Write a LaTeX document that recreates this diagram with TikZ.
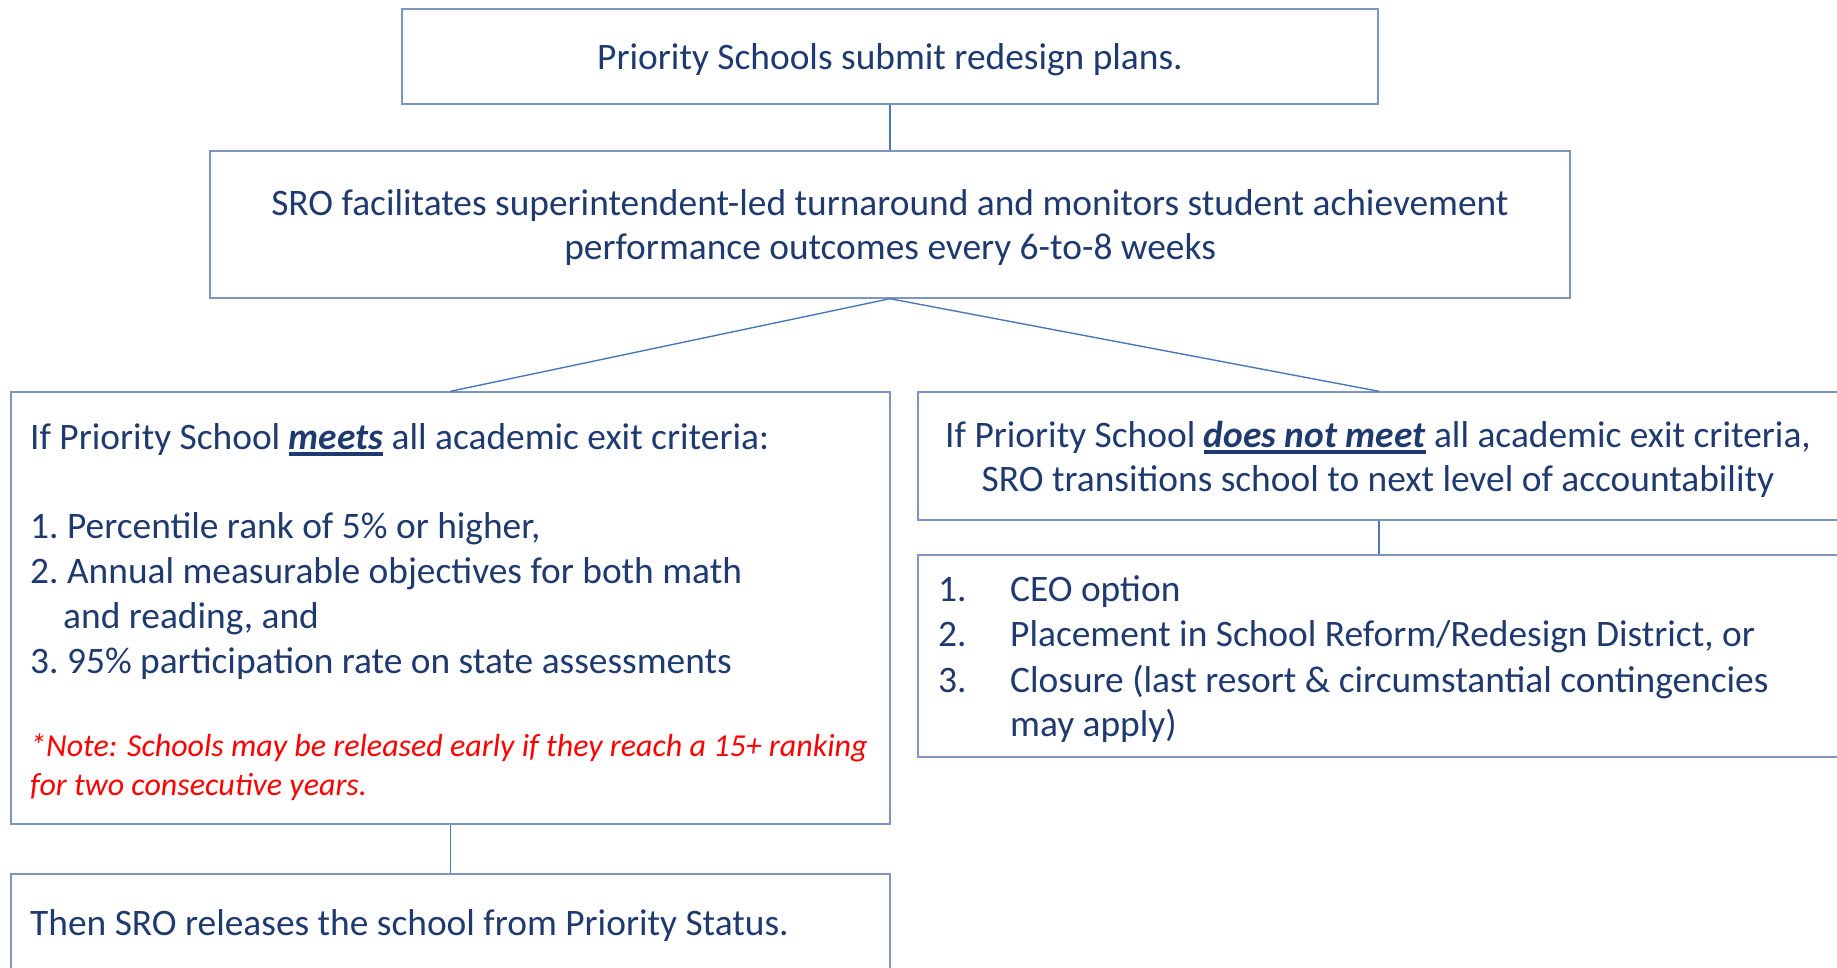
\documentclass[tikz,border=0pt]{standalone}
\usepackage{fontspec}
\setmainfont{Carlito}
\definecolor{txtblue}{RGB}{31,58,110}
\definecolor{boxline}{RGB}{125,150,192}
\definecolor{conline}{RGB}{74,120,185}
\definecolor{notered}{RGB}{255,0,0}
\newcommand\thul[1]{\setbox0\hbox{#1}\rlap{\vrule height -3pt depth 7pt width \wd0}\box0\relax}
\tikzset{
  box/.style={draw=boxline, line width=1.4pt, rectangle, inner sep=0pt},
  con/.style={draw=conline, line width=1.4pt},
  txt/.style={text=txtblue, inner sep=0pt, font=\fontsize{37.4}{45}\selectfont},
  ltxt/.style={txt, anchor=base west},
  ctxt/.style={txt, anchor=base},
  note/.style={text=notered, inner sep=0pt, anchor=base west, font=\fontsize{32}{39}\selectfont\itshape},
}
\begin{document}
\begin{tikzpicture}[x=1pt,y=-1pt]
\useasboundingbox (0,0) rectangle (1837,967);
\clip (0,0) rectangle (1837,967);
% boxes
\node[box, minimum width=976pt, minimum height=95pt] (top) at (890,56.5) {};
\node[box, minimum width=1360pt, minimum height=147pt] (mid) at (890,224.5) {};
\node[box, minimum width=879pt, minimum height=432pt] (left) at (450.5,608) {};
\node[box, minimum width=922pt, minimum height=128pt] (right) at (1379,456) {};
\node[box, minimum width=922pt, minimum height=202pt] (rb) at (1379,656) {};
\node[box, minimum width=879pt, minimum height=126pt] (bot) at (450.5,937) {};
% connectors
\draw[con] (top.south) -- (mid.north);
\draw[con] (mid.south) -- (left.north);
\draw[con] (mid.south) -- (right.north);
\draw[con] (left.south) -- (bot.north);
\draw[con] (right.south) -- (rb.north);
% texts
\node[ctxt] (t1) at (890,69) {Priority Schools submit redesign plans.};
\node[ctxt] (m1) at (890,215) {SRO facilitates superintendent-led turnaround and monitors student achievement};
\node[ctxt] (m2) at (890,259) {performance outcomes every 6-to-8 weeks};
\node[ltxt] (l1) at (30,449) {If Priority School \thul{\textbf{\textit{meets}}} all academic exit criteria:};
\node[ltxt] (l2) at (30,538) {1.\hskip8.5pt\relax Percentile rank of 5\% or higher,};
\node[ltxt] (l3) at (30,583) {2.\hskip8.5pt\relax Annual measurable objectives for both math};
\node[ltxt] (l4) at (63,628) {and reading, and};
\node[ltxt] (l5) at (30,673) {3.\hskip8.5pt\relax 95\% participation rate on state assessments};
\node[note] (n1) at (30,756) {*Note: Schools may be released early if they reach a 15+ ranking};
\node[note] (n2) at (30,795) {for two consecutive years.};
\node[ctxt] (r1) at (1378,447) {If Priority School \thul{\textbf{\textit{does not meet}}} all academic exit criteria,};
\node[ctxt] (r2) at (1378,491) {SRO transitions school to next level of accountability};
\node[ltxt] (a1) at (938,601) {1.};
\node[ltxt] (a2) at (938,646) {2.};
\node[ltxt] (a3) at (938,692) {3.};
\node[ltxt] (b1) at (1010,601) {CEO option};
\node[ltxt] (b2) at (1010,646) {Placement in School Reform/Redesign District, or};
\node[ltxt] (b3) at (1010,692) {Closure (last resort \& circumstantial contingencies};
\node[ltxt] (b4) at (1010,736) {may apply)};
\node[ltxt] (bt) at (30,935) {Then SRO releases the school from Priority Status.};
\end{tikzpicture}
\end{document}
